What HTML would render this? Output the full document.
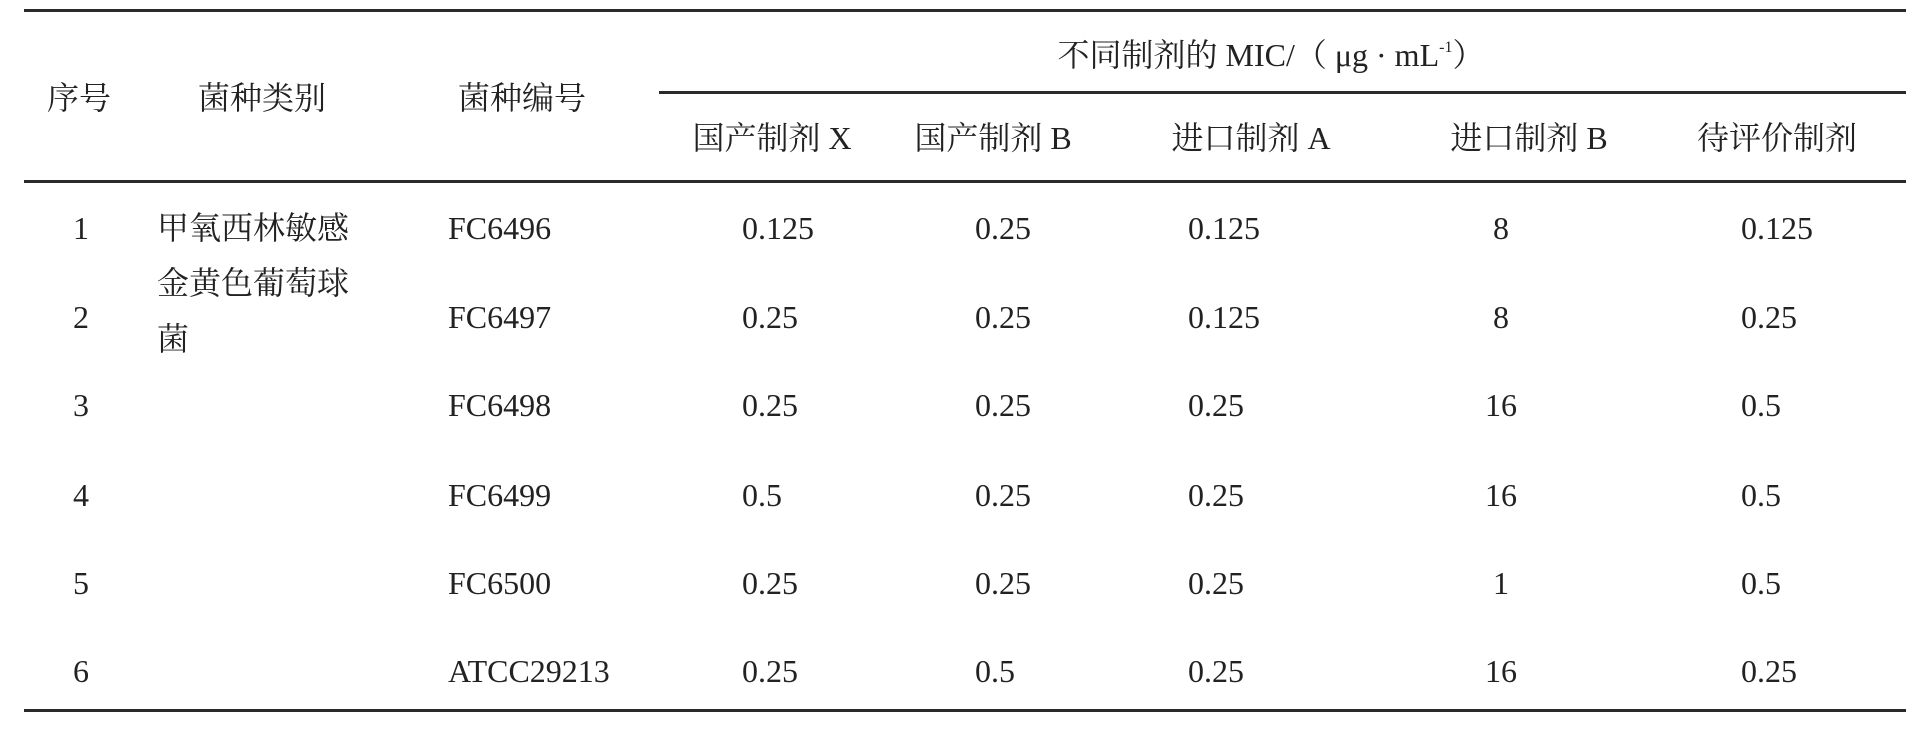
<!DOCTYPE html>
<html><head><meta charset="utf-8"><style>
body{margin:0;width:1920px;height:736px;background:#fff;position:relative;overflow:hidden;font-family:"Liberation Serif","Noto Serif CJK SC",serif;color:#222;font-size:32px}
.l{position:absolute;background:#2a2a2a;height:3px}
.t{position:absolute;white-space:nowrap;line-height:1;transform:translateY(-50%)}
.c{transform:translate(-50%,-50%)}
sup{font-size:16px;vertical-align:14px}
</style></head><body>
<div class="l" style="left:24px;width:1882px;top:9px"></div>
<div class="l" style="left:659px;width:1247px;top:91px"></div>
<div class="l" style="left:24px;width:1882px;top:180px"></div>
<div class="l" style="left:24px;width:1882px;top:709px"></div>

<div class="t c" style="left:79px;top:98px">序号</div>
<div class="t c" style="left:262px;top:98px">菌种类别</div>
<div class="t c" style="left:522px;top:98px">菌种编号</div>
<div class="t c" style="left:1271px;top:55px">不同制剂的 MIC/（ μg · mL<sup>-1</sup>）</div>
<div class="t c" style="left:772px;top:138px">国产制剂 X</div>
<div class="t c" style="left:993px;top:138px">国产制剂 B</div>
<div class="t c" style="left:1251px;top:138px">进口制剂 A</div>
<div class="t c" style="left:1529px;top:138px">进口制剂 B</div>
<div class="t c" style="left:1777px;top:138px">待评价制剂</div>

<div class="t" style="left:157px;top:228px">甲氧西林敏感</div>
<div class="t" style="left:157px;top:283px">金黄色葡萄球</div>
<div class="t" style="left:157px;top:339px">菌</div>

<div class="t c" style="left:81px;top:228px">1</div>
<div class="t" style="left:448px;top:228px">FC6496</div>
<div class="t" style="left:742px;top:228px">0.125</div>
<div class="t" style="left:975px;top:228px">0.25</div>
<div class="t" style="left:1188px;top:228px">0.125</div>
<div class="t c" style="left:1501px;top:228px">8</div>
<div class="t" style="left:1741px;top:228px">0.125</div>

<div class="t c" style="left:81px;top:317px">2</div>
<div class="t" style="left:448px;top:317px">FC6497</div>
<div class="t" style="left:742px;top:317px">0.25</div>
<div class="t" style="left:975px;top:317px">0.25</div>
<div class="t" style="left:1188px;top:317px">0.125</div>
<div class="t c" style="left:1501px;top:317px">8</div>
<div class="t" style="left:1741px;top:317px">0.25</div>

<div class="t c" style="left:81px;top:405px">3</div>
<div class="t" style="left:448px;top:405px">FC6498</div>
<div class="t" style="left:742px;top:405px">0.25</div>
<div class="t" style="left:975px;top:405px">0.25</div>
<div class="t" style="left:1188px;top:405px">0.25</div>
<div class="t c" style="left:1501px;top:405px">16</div>
<div class="t" style="left:1741px;top:405px">0.5</div>

<div class="t c" style="left:81px;top:495px">4</div>
<div class="t" style="left:448px;top:495px">FC6499</div>
<div class="t" style="left:742px;top:495px">0.5</div>
<div class="t" style="left:975px;top:495px">0.25</div>
<div class="t" style="left:1188px;top:495px">0.25</div>
<div class="t c" style="left:1501px;top:495px">16</div>
<div class="t" style="left:1741px;top:495px">0.5</div>

<div class="t c" style="left:81px;top:583px">5</div>
<div class="t" style="left:448px;top:583px">FC6500</div>
<div class="t" style="left:742px;top:583px">0.25</div>
<div class="t" style="left:975px;top:583px">0.25</div>
<div class="t" style="left:1188px;top:583px">0.25</div>
<div class="t c" style="left:1501px;top:583px">1</div>
<div class="t" style="left:1741px;top:583px">0.5</div>

<div class="t c" style="left:81px;top:671px">6</div>
<div class="t" style="left:448px;top:671px">ATCC29213</div>
<div class="t" style="left:742px;top:671px">0.25</div>
<div class="t" style="left:975px;top:671px">0.5</div>
<div class="t" style="left:1188px;top:671px">0.25</div>
<div class="t c" style="left:1501px;top:671px">16</div>
<div class="t" style="left:1741px;top:671px">0.25</div>
</body></html>
